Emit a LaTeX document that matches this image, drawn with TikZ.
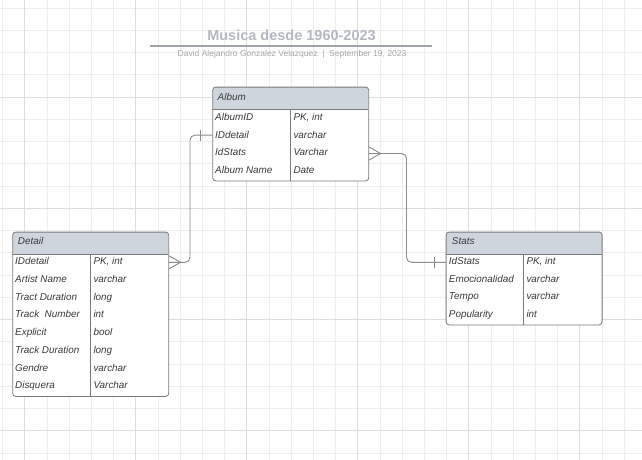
\documentclass[tikz,border=0pt]{standalone}
\usepackage{fontspec}
\setmainfont{Liberation Sans}
\definecolor{gridminor}{HTML}{EEEEEE}
\definecolor{gridmajor}{HTML}{DDDDDD}
\definecolor{hdr}{HTML}{CFD5DC}
\definecolor{tblborder}{HTML}{7A7A7A}
\definecolor{conncol}{HTML}{8C8C8C}
\definecolor{txt}{HTML}{3A3A3A}
\definecolor{titlecol}{HTML}{B4B8C0}
\definecolor{subcol}{HTML}{A8A8A8}
\definecolor{rulecol}{HTML}{A0A4AC}
\begin{document}
\begin{tikzpicture}[x=1pt,y=-1pt,
  tbl/.style={draw=tblborder, line width=0.8pt, fill=white, rounded corners=3pt,
    anchor=north west, inner sep=0pt, minimum width=156pt,
    path picture={\fill[hdr] (path picture bounding box.north west) rectangle ([yshift=-22.5pt]path picture bounding box.north east);}},
  cell/.style={anchor=base west, inner sep=0pt, text=txt, font=\fontsize{9.9}{11}\selectfont\itshape},
  sepline/.style={draw=tblborder, line width=0.8pt},
  conn/.style={draw=conncol, line width=0.9pt, rounded corners=5pt},
  ermark/.style={draw=conncol, line width=0.9pt}
]
\useasboundingbox (0,0) rectangle (642,460);
\fill[white] (0,0) rectangle (642,460);
% grid
\foreach \k in {0,...,28}{\pgfmathsetmacro\xx{2.5+22.2*\k}\draw[gridminor,line width=0.7pt] (\xx,0) -- (\xx,460);}
\foreach \k in {0,...,20}{\pgfmathsetmacro\yy{8+22.25*\k}\draw[gridminor,line width=0.7pt] (0,\yy) -- (642,\yy);}
\foreach \k in {1,6,...,26}{\pgfmathsetmacro\xx{2.5+22.2*\k}\draw[gridmajor,line width=0.7pt] (\xx,0) -- (\xx,460);}
\foreach \k in {4,9,...,19}{\pgfmathsetmacro\yy{8+22.25*\k}\draw[gridmajor,line width=0.7pt] (0,\yy) -- (642,\yy);}

% title
\node[text=titlecol, font=\fontsize{14.5}{16}\selectfont\bfseries, anchor=center, inner sep=0pt] (title) at (291.5,35.8) {Musica desde 1960-2023};
\draw[rulecol, line width=1.3pt] (150,46) -- (431.7,46);
\node[text=subcol, font=\fontsize{8.5}{9}\selectfont, anchor=center, inner sep=0pt] (subtitle) at (292,54.7) {David Alejandro Gonzalez Velazquez\ \ |\ \ September 19, 2023};

% Album table
\node[tbl, minimum height=93.8pt] (album) at (212.3,86.7) {};
\draw[sepline] (212.3,109.3) -- (368.3,109.3);
\draw[sepline] (290.7,109.3) -- (290.7,180.5);
\node[cell, anchor=base west] (albumh) at (217.5,100.3) {Album};
\foreach \a/\b [count=\i from 0] in {AlbumID/{PK, int},IDdetail/varchar,IdStats/Varchar,Album Name/Date}{
  \node[cell] (albl\i) at (215,109.3+17.8*\i+10.9) {\a};
  \node[cell] (albr\i) at (293.3,109.3+17.8*\i+10.9) {\b};
}

% Detail table
\node[tbl, minimum height=164.3pt] (detail) at (12.3,231.7) {};
\draw[sepline] (12.3,254) -- (168.3,254);
\draw[sepline] (90.3,254) -- (90.3,396);
\node[cell] (detailh) at (17.7,244.3) {Detail};
\foreach \a/\b [count=\i from 0] in {IDdetail/{PK, int},Artist Name/varchar,Tract Duration/long,Track\ \ Number/int,Explicit/bool,Track Duration/long,Gendre/varchar,Disquera/Varchar}{
  \node[cell] (detl\i) at (15,254+17.75*\i+10.5) {\a};
  \node[cell] (detr\i) at (93.3,254+17.75*\i+10.5) {\b};
}

% Stats table
\node[tbl, minimum height=92.8pt] (stats) at (445.7,231.7) {};
\draw[sepline] (445.7,254) -- (601.7,254);
\draw[sepline] (523.3,254) -- (523.3,324.5);
\node[cell] (statsh) at (451.7,244.3) {Stats};
\foreach \a/\b [count=\i from 0] in {IdStats/{PK, int},Emocionalidad/varchar,Tempo/varchar,Popularity/int}{
  \node[cell] (stl\i) at (448.7,254+17.6*\i+10.5) {\a};
  \node[cell] (str\i) at (526.3,254+17.6*\i+10.5) {\b};
}

% connection points
\path (album.north west) ++(0,48.4) coordinate (aW);
\path (album.north east) ++(0,66.8) coordinate (aE);
\path (detail.north east) ++(0,30.6) coordinate (dE);
\path (stats.north west) ++(0,30.6) coordinate (sW);
\coordinate (c1a) at (190,262.3);
\coordinate (c1b) at (190,135.1);
\coordinate (c2a) at (406.5,153.5);
\coordinate (c2b) at (406.5,262.3);

% Detail -> Album
\draw[conn] (dE) -- (c1a) -- (c1b) -- (aW);
\draw[ermark] (dE) ++(0,-6.5) -- ++(11.5,6.5) -- ++(-11.5,6.5);
\draw[ermark] (aW) ++(-11.5,-5.5) -- ++(0,11);

% Album -> Stats
\draw[conn] (aE) -- (c2a) -- (c2b) -- (sW);
\draw[ermark] (aE) ++(0,-6.5) -- ++(11.5,6.5) -- ++(-11.5,6.5);
\draw[ermark] (sW) ++(-11.5,-5.5) -- ++(0,11);
\end{tikzpicture}
\end{document}
